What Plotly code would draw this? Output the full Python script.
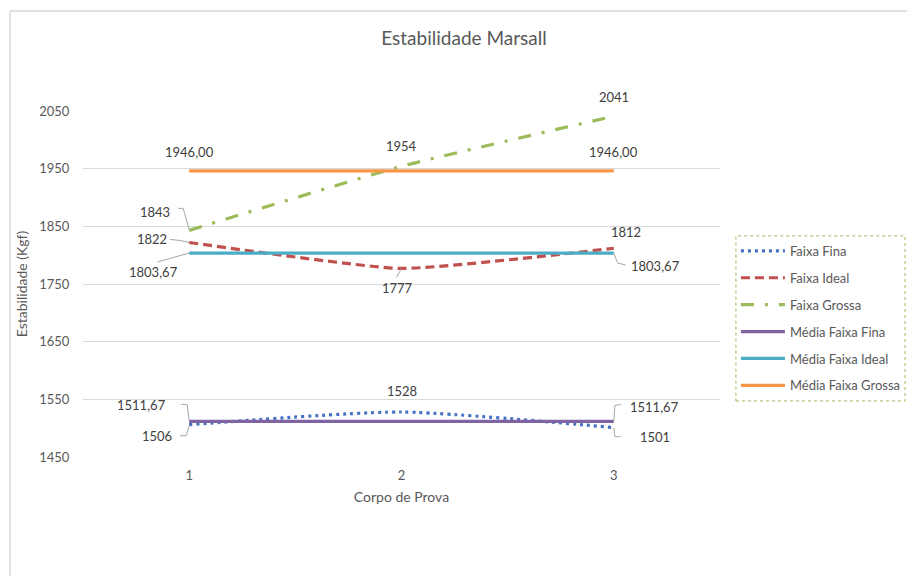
import plotly.graph_objects as go

# Ensaio Marshall: estabilidade (Kgf) por corpo de prova
corpos = [1, 2, 3]
faixa_fina = [1506, 1528, 1501]
faixa_ideal = [1822, 1777, 1812]
faixa_grossa = [1843, 1954, 2041]
media_fina = [1511.67, 1511.67, 1511.67]
media_ideal = [1803.67, 1803.67, 1803.67]
media_grossa = [1946.00, 1946.00, 1946.00]
y_ticks = [1450, 1550, 1650, 1750, 1850, 1950, 2050]

FONT = "Lato, 'Open Sans', sans-serif"
TXT = "#595959"
LBL = "#404040"
LEADER = "#A6A6A6"

fig = go.Figure()

series = [
    ("Faixa Fina", faixa_fina, "#4472C4", "3px,4px", "spline", 0.6),
    ("Faixa Ideal", faixa_ideal, "#C0504D", "9px,5px", "spline", 0.45),
    ("Faixa Grossa", faixa_grossa, "#9BBB59", "13px,11px,3px,11px", "spline", 0.5),
    ("Média Faixa Fina", media_fina, "#8064A2", "solid", "linear", 0),
    ("Média Faixa Ideal", media_ideal, "#4BACC6", "solid", "linear", 0),
    ("Média Faixa Grossa", media_grossa, "#F79646", "solid", "linear", 0),
]
for i, (name, vals, color, dash, shape, smooth) in enumerate(series):
    line = dict(color=color, width=3.2, dash=dash, shape=shape)
    if shape == "spline":
        line["smoothing"] = smooth
    fig.add_trace(go.Scatter(
        x=corpos, y=vals, name=name, mode="lines", line=line,
        legendgroup=f"g{i}", hoverinfo="skip",
    ))

annotations = []
shapes = []


def fmt(v, dec):
    if dec:
        return f"{v:.2f}".replace(".", ",")
    return f"{int(round(v))}"


def label(x, v, dx, dy, dec=False, leader=None):
    """Data label offset (dx, dy) in pixels from the point; dy > 0 goes down."""
    annotations.append(dict(
        x=x, y=v, xref="x", yref="y", text=fmt(v, dec), showarrow=False,
        xshift=dx, yshift=-dy, font=dict(family=FONT, size=13, color=LBL),
    ))
    if leader:
        # leader path in pixel offsets from the point (y up)
        path = "M " + " L ".join(f"{px},{-py}" for px, py in leader)
        shapes.append(dict(
            type="path", xref="x", yref="y", xsizemode="pixel", ysizemode="pixel",
            xanchor=x, yanchor=v, path=path,
            line=dict(color=LEADER, width=1),
        ))


# Faixa Grossa
label(1, faixa_grossa[0], -34, -18, leader=[(-11, -22), (-6, -22), (0, -1)])
label(2, faixa_grossa[1], 0, -20)
label(3, faixa_grossa[2], 0, -19)
# Média Faixa Grossa
label(1, media_grossa[0], 0, -19, dec=True)
label(3, media_grossa[2], 0, -19, dec=True)
# Faixa Ideal
label(1, faixa_ideal[0], -37, -3, leader=[(-19, -3), (-9, -2), (0, 0)])
label(2, faixa_ideal[1], -4, 20, leader=[(-5, 9), (0, 0)])
label(3, faixa_ideal[2], 12, -16)
# Média Faixa Ideal
label(1, media_ideal[0], -36, 19, dec=True, leader=[(-32, 9), (0, 0)])
label(3, media_ideal[2], 42, 13, dec=True, leader=[(0, 1), (4, 10), (12, 12)])
# Faixa Fina
label(1, faixa_fina[0], -32, 11, leader=[(-9, 11), (-3, 11), (0, 1)])
label(2, faixa_fina[1], 0, -21)
label(3, faixa_fina[2], 41, 9, leader=[(0, 0), (1, 9), (7, 9)])
# Média Faixa Fina
label(1, media_fina[0], -48, -16, dec=True, leader=[(-8, -17), (-2, -17), (0, -1)])
label(3, media_fina[2], 41, -14, dec=True, leader=[(0, -1), (1, -16), (7, -17)])

# chart area border (left and top edges)
shapes.append(dict(type="line", xref="paper", yref="paper", x0=-0.1147, x1=1.4, y0=1.2890, y1=1.2890,
                   line=dict(color="#D9D9D9", width=1.5)))
shapes.append(dict(type="line", xref="paper", yref="paper", x0=-0.1147, x1=-0.1147, y0=-0.4, y1=1.2890,
                   line=dict(color="#D9D9D9", width=1.5)))
# legend frame (dotted)
shapes.append(dict(type="rect", xref="paper", yref="paper", x0=1.025, x1=1.2905, y0=0.162, y1=0.639,
                   line=dict(color="#9BBB59", width=1, dash="dot")))

fig.update_layout(
    width=907, height=576,
    margin=dict(l=83, r=187, t=111, b=119, autoexpand=False),
    paper_bgcolor="white", plot_bgcolor="white",
    font=dict(family=FONT, color=TXT),
    title=dict(text="Estabilidade Marsall", x=464 / 907, xanchor="center", xref="container",
               y=1 - 38 / 576, yanchor="middle", yref="container",
               font=dict(family=FONT, size=19, color=TXT)),
    xaxis=dict(range=[0.5, 3.5], tickvals=corpos, ticktext=[str(c) for c in corpos],
               showgrid=False, zeroline=False, showline=False,
               ticks="outside", ticklen=6, tickcolor="rgba(0,0,0,0)",
               tickfont=dict(family=FONT, size=13, color=TXT),
               title=dict(text="Corpo de Prova", font=dict(family=FONT, size=14, color=TXT), standoff=10),
               fixedrange=True),
    yaxis=dict(range=[1450, 2050], tickvals=y_ticks, showgrid=True, gridcolor="#D9D9D9", gridwidth=1,
               zeroline=False, showline=False,
               ticks="outside", ticklen=10, tickcolor="rgba(0,0,0,0)",
               tickfont=dict(family=FONT, size=13, color=TXT),
               title=dict(text="Estabilidade (Kgf)", font=dict(family=FONT, size=14, color=TXT), standoff=8),
               fixedrange=True),
    legend=dict(x=1.025, y=0.639, xanchor="left", yanchor="top",
                bgcolor="rgba(0,0,0,0)", borderwidth=0,
                font=dict(family=FONT, size=13, color=TXT),
                itemwidth=44, tracegroupgap=7, traceorder="grouped"),
    annotations=annotations,
    shapes=shapes,
    showlegend=True,
)

fig.write_html("out.html")
